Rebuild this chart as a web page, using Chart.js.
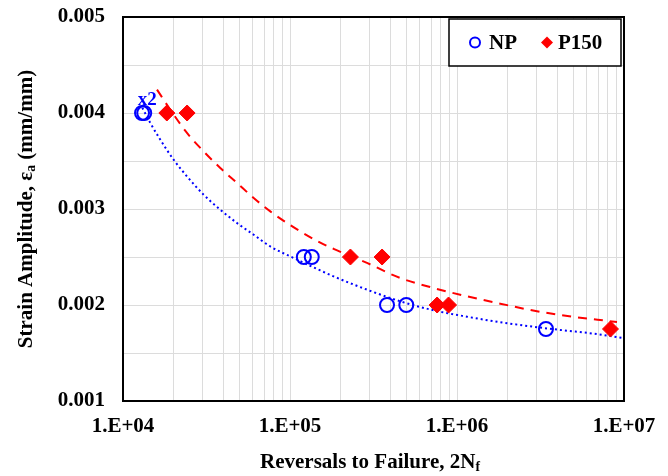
<!DOCTYPE html>
<html>
<head>
<meta charset="utf-8">
<script src="https://cdn.jsdelivr.net/npm/chart.js@4.4.1/dist/chart.umd.min.js"></script>
<style>
  html, body { margin: 0; padding: 0; background: #fff; }
  #wrap { width: 668px; height: 476px; }
</style>
</head>
<body>
<div id="wrap"><canvas id="fatigueChart" width="668" height="476"></canvas></div>
<script>
// test data
var npCycles = [1.30e4, 1.34e4, 1.21e5, 1.35e5, 3.81e5, 4.97e5, 3.41e6];
var npStrain = [0.004, 0.004, 0.0025, 0.0025, 0.002, 0.002, 0.00175];
var p150Cycles = [1.83e4, 2.42e4, 2.30e5, 3.56e5, 7.6e5, 8.9e5, 8.3e6];
var p150Strain = [0.004, 0.004, 0.0025, 0.0025, 0.002, 0.002, 0.00175];

// trend curves
var npFitCycles = [1.305e4, 1.457e4, 1.673e4, 2.009e4, 2.416e4, 3.04e4, 3.825e4, 4.815e4, 6.06e4, 7.62e4,
    1.051e5, 1.518e5, 1.824e5, 2.89e5, 4.58e5, 7.24e5, 1.148e6, 1.816e6, 3.30e6, 6.58e6, 9.95e6];
var npFitStrain = [0.004055, 0.003896, 0.003722, 0.003514, 0.00334, 0.003149, 0.002993, 0.002854, 0.002732, 0.00261,
    0.00249, 0.00236, 0.002298, 0.00216, 0.002038, 0.001945, 0.001878, 0.001821, 0.00176, 0.001701, 0.001655];
var p150FitCycles = [1.598e4, 1.92e4, 2.416e4, 3.04e4, 3.825e4, 4.815e4, 6.06e4, 7.62e4, 9.6e4, 1.153e5,
    1.518e5, 1.824e5, 2.89e5, 4.58e5, 7.24e5, 1.148e6, 1.816e6, 2.624e6, 4.155e6, 9.08e6];
var p150FitStrain = [0.004243, 0.004034, 0.003792, 0.0036, 0.003427, 0.003271, 0.003115, 0.002975, 0.002854, 0.002767,
    0.00265, 0.002585, 0.002438, 0.002281, 0.002177, 0.00209, 0.002014, 0.001955, 0.001895, 0.001823];

var xTickValues = [1e4, 1e5, 1e6, 1e7];
var xTickLabels = ['1.E+04', '1.E+05', '1.E+06', '1.E+07'];
var yTickValues = [0.001, 0.002, 0.003, 0.004, 0.005];
var yTickLabels = ['0.001', '0.002', '0.003', '0.004', '0.005'];

var FONT = "'Liberation Serif', 'Times New Roman', serif";
var BLUE = 'rgb(0, 0, 255)';
var RED = 'rgb(255, 0, 0)';

function pairs(xs, ys) {
    return xs.map(function (x, i) { return { x: x, y: ys[i] }; });
}

// text with a subscript part, centred on 0
function drawMixed(ctx, parts, size) {
    var total = 0;
    parts.forEach(function (p) {
        ctx.font = 'bold ' + (p.sub ? size * 0.65 : size) + 'px ' + FONT;
        p.w = ctx.measureText(p.t).width;
        total += p.w;
    });
    var x = -total / 2;
    parts.forEach(function (p) {
        ctx.font = 'bold ' + (p.sub ? size * 0.65 : size) + 'px ' + FONT;
        ctx.fillText(p.t, x, p.sub ? size * 0.22 : 0);
        x += p.w;
    });
}

var decor = {
    id: 'decor',
    afterDraw: function (chart) {
        var ctx = chart.ctx;
        var a = chart.chartArea;
        ctx.save();

        // plot frame
        ctx.strokeStyle = '#000';
        ctx.lineWidth = 2;
        ctx.strokeRect(a.left, a.top, a.right - a.left, a.bottom - a.top);

        // axis titles
        ctx.fillStyle = '#000';
        ctx.textBaseline = 'middle';
        ctx.textAlign = 'left';
        ctx.save();
        ctx.translate(370, 463);
        drawMixed(ctx, [{ t: 'Reversals to Failure, 2N' }, { t: 'f', sub: true }], 21);
        ctx.restore();
        ctx.save();
        ctx.translate(27, (a.top + a.bottom) / 2);
        ctx.rotate(-Math.PI / 2);
        drawMixed(ctx, [{ t: 'Strain Amplitude, \u03b5' }, { t: 'a', sub: true }, { t: ' (mm/mm)' }], 21);
        ctx.restore();

        // "x2" note on the doubled NP point
        var xs = chart.scales.x, ys = chart.scales.y;
        ctx.fillStyle = BLUE;
        ctx.font = 'bold 19px ' + FONT;
        ctx.textAlign = 'center';
        ctx.fillText('x2', xs.getPixelForValue(npCycles[1]) + 3, ys.getPixelForValue(npStrain[1]) - 13);

        // legend box in the top right corner
        var bx = a.right - 175, by = a.top + 2, bw = 172, bh = 47;
        ctx.fillStyle = '#fff';
        ctx.fillRect(bx, by, bw, bh);
        ctx.strokeStyle = '#000';
        ctx.lineWidth = 1.5;
        ctx.strokeRect(bx, by, bw, bh);
        var cy = by + bh / 2;
        var np = chart.data.datasets[0], p150 = chart.data.datasets[1];
        ctx.strokeStyle = np.borderColor;
        ctx.lineWidth = 2;
        ctx.beginPath();
        ctx.arc(bx + 26, cy, 5, 0, Math.PI * 2);
        ctx.stroke();
        ctx.fillStyle = p150.backgroundColor;
        ctx.beginPath();
        ctx.moveTo(bx + 98, cy - 6);
        ctx.lineTo(bx + 104, cy);
        ctx.lineTo(bx + 98, cy + 6);
        ctx.lineTo(bx + 92, cy);
        ctx.closePath();
        ctx.fill();
        ctx.fillStyle = '#000';
        ctx.font = 'bold 21px ' + FONT;
        ctx.textAlign = 'left';
        ctx.fillText(np.label, bx + 40, cy + 1);
        ctx.fillText(p150.label, bx + 109, cy + 1);
        ctx.restore();
    }
};

var ctx = document.getElementById('fatigueChart').getContext('2d');
var chart = new Chart(ctx, {
    type: 'scatter',
    data: {
        datasets: [{
            label: 'NP',
            data: pairs(npCycles, npStrain),
            pointStyle: 'circle',
            pointRadius: 7,
            pointHoverRadius: 7,
            borderColor: BLUE,
            backgroundColor: 'rgba(0,0,0,0)',
            borderWidth: 2,
            order: 0
        }, {
            label: 'P150',
            data: pairs(p150Cycles, p150Strain),
            pointStyle: 'rectRot',
            pointRadius: 8,
            pointHoverRadius: 8,
            borderColor: RED,
            backgroundColor: RED,
            borderWidth: 1,
            order: 0
        }, {
            label: 'NP fit',
            type: 'line',
            data: pairs(npFitCycles, npFitStrain),
            showLine: true,
            pointRadius: 0,
            borderColor: BLUE,
            borderWidth: 2,
            borderDash: [2, 3],
            cubicInterpolationMode: 'monotone',
            fill: false,
            order: 1
        }, {
            label: 'P150 fit',
            type: 'line',
            data: pairs(p150FitCycles, p150FitStrain),
            showLine: true,
            pointRadius: 0,
            borderColor: RED,
            borderWidth: 2,
            borderDash: [9, 7],
            cubicInterpolationMode: 'monotone',
            fill: false,
            order: 1
        }]
    },
    options: {
        responsive: false,
        animation: false,
        layout: { padding: { top: 17, right: 44, left: 0, bottom: 0 } },
        plugins: {
            legend: { display: false },
            tooltip: { enabled: false }
        },
        scales: {
            x: {
                type: 'logarithmic',
                min: 1e4,
                max: 1e7,
                afterBuildTicks: function (scale) {
                    var vals = [];
                    for (var d = 0; d < xTickValues.length - 1; d++) {
                        for (var k = 1; k <= 9; k++) vals.push(k * xTickValues[d]);
                    }
                    vals.push(xTickValues[xTickValues.length - 1]);
                    scale.ticks = vals.map(function (v) { return { value: v }; });
                },
                afterFit: function (scale) {
                    scale.height = 75;
                    scale.paddingLeft = 0;
                    scale.paddingRight = 0;
                },
                border: { display: false },
                grid: { color: '#dcdcdc', lineWidth: 1, drawTicks: false },
                ticks: {
                    autoSkip: false,
                    maxRotation: 0,
                    padding: 13,
                    color: '#000',
                    font: { family: FONT, size: 21, weight: 'bold' },
                    callback: function (value) {
                        for (var i = 0; i < xTickValues.length; i++) {
                            if (Math.abs(value / xTickValues[i] - 1) < 1e-6) return xTickLabels[i];
                        }
                        return '';
                    }
                }
            },
            y: {
                min: 0.001,
                max: 0.005,
                afterFit: function (scale) {
                    scale.width = 123;
                    scale.paddingTop = 0;
                    scale.paddingBottom = 0;
                },
                border: { display: false },
                grid: { color: '#dcdcdc', lineWidth: 1, drawTicks: false },
                ticks: {
                    stepSize: 0.0005,
                    padding: 18,
                    color: '#000',
                    font: { family: FONT, size: 21, weight: 'bold' },
                    callback: function (value) {
                        for (var i = 0; i < yTickValues.length; i++) {
                            if (Math.abs(value - yTickValues[i]) < 1e-7) return yTickLabels[i];
                        }
                        return '';
                    }
                }
            }
        }
    },
    plugins: [decor]
});
</script>
</body>
</html>
